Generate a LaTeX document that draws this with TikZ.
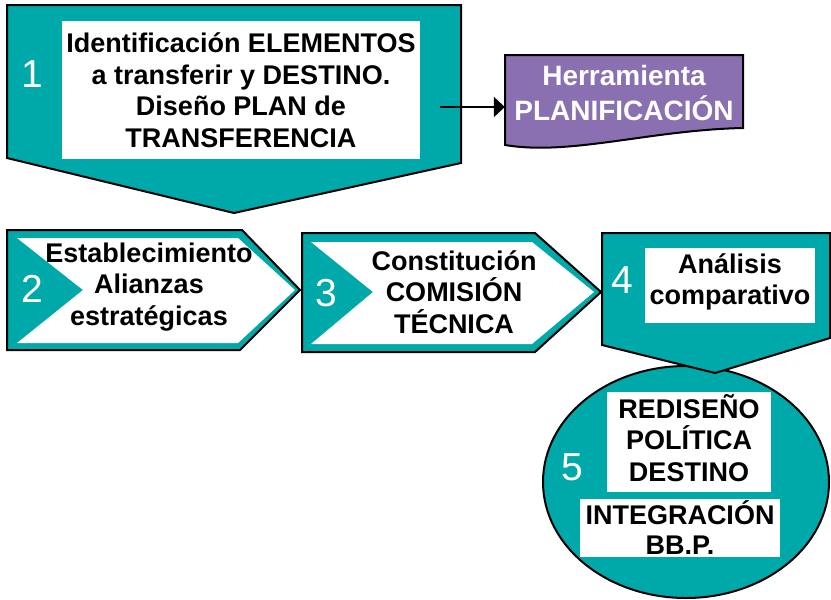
\documentclass[tikz,border=0pt]{standalone}
\usepackage{fontspec}
\setmainfont{Liberation Sans}
\usetikzlibrary{arrows.meta}
\definecolor{verdeazul}{RGB}{0,169,169}
\definecolor{lila}{RGB}{138,112,176}

\begin{document}
\begin{tikzpicture}[x=1pt,y=-1pt,
	caja/.style={fill=verdeazul,draw=black,line width=2pt,line join=miter},
	num/.style={text=white,inner sep=0pt,font=\fontsize{39}{39}\selectfont},
	txt/.style={align=center,inner sep=0pt,font=\fontsize{27}{31.5}\selectfont\bfseries}]
	\useasboundingbox (0,0) rectangle (831,600);
	% 1
	\draw[caja] (7,5) -- (461,5) -- (461,163) -- (234,213) -- (7,158) -- cycle;
	\fill[white] (62,21) rectangle (420,159);
	\node[num] (n1) at (32,74) {1};
	\node[txt] (t1) at (241,90) {Identificación ELEMENTOS\\a transferir y DESTINO.\\Diseño PLAN de\\TRANSFERENCIA};
	% herramienta
	\draw[fill=lila,draw=black,line width=2pt] (505,55) -- (743,55) -- (743,128)
		.. controls (650,130) and (570,156) .. (505,145) -- cycle;
	\node[txt,text=white,font=\fontsize{28}{35}\selectfont\bfseries,minimum width=238pt] (tool) at (624,93) {Herramienta\\PLANIFICACIÓN};
	\coordinate (b1r) at (440,107);
	\draw[line width=2.5pt,-{Triangle[length=11pt,width=20pt]}] (b1r) -- (b1r -| tool.west);
	% 2
	\draw[caja] (7,230) -- (242,230) -- (300,290) -- (240,350) -- (7,350) -- cycle;
	\fill[white] (17,238) -- (238,238) -- (295,290) -- (238,343) -- (17,343) -- (83,290) -- cycle;
	\node[num] (n2) at (32,289) {2};
	\node[txt] (t2) at (149,287) {Establecimiento\\Alianzas\\estratégicas};
	% 3
	\draw[caja] (302,233) -- (535,233) -- (601,292) -- (535,352) -- (302,352) -- cycle;
	\fill[white] (311,242) -- (532,242) -- (594,292) -- (532,344) -- (311,344) -- (373,292) -- cycle;
	\node[num] (n3) at (326,293) {3};
	\node[txt] (t3) at (454,292) {Constitución\\COMISIÓN\\TÉCNICA};
	% 5
	\draw[fill=verdeazul,draw=black,line width=2pt] (686,482) ellipse [x radius=143, y radius=116];
	\fill[white] (607,392) rectangle (771,492);
	\fill[white] (580,499) rectangle (780,557);
	\node[num] (n5) at (572,467) {5};
	\node[txt] (t5a) at (689,438) {REDISEÑO\\POLÍTICA\\DESTINO};
	\node[txt,font=\fontsize{27}{30}\selectfont\bfseries] (t5b) at (680,528) {INTEGRACIÓN\\BB.P.};
	% 4
	\draw[caja] (602,233) -- (830,233) -- (830,338) -- (715,373) -- (602,345) -- cycle;
	\fill[white] (645,248) rectangle (815,323);
	\node[num] (n4) at (622,280) {4};
	\node[txt] (t4) at (730,282) {Análisis\\comparativo};
\end{tikzpicture}
\end{document}
